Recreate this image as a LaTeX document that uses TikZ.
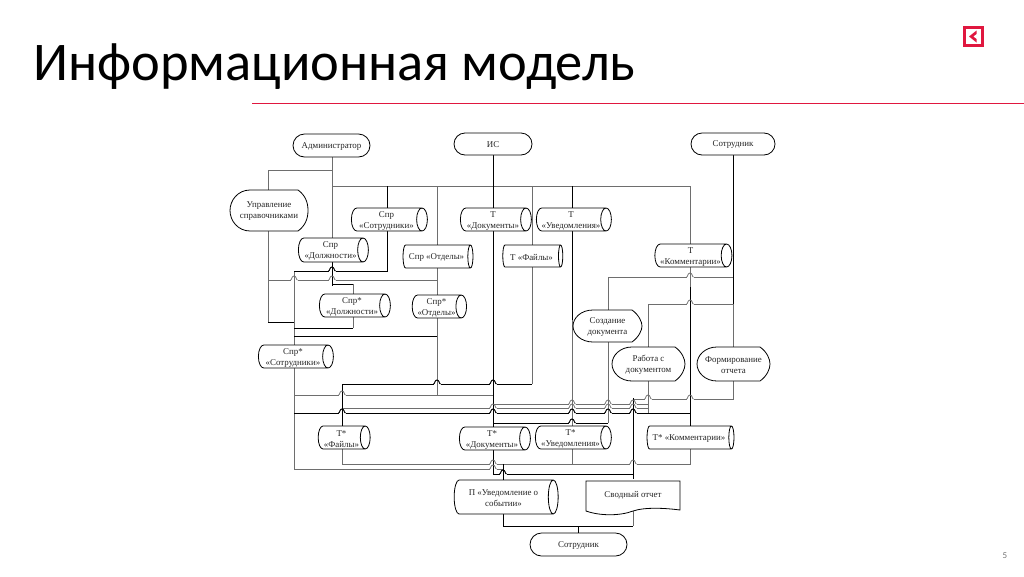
\documentclass[tikz,border=0pt]{standalone}
\usepackage{fontspec}
\setmainfont{Liberation Serif}
\newfontfamily\titlefont{Carlito}
\newfontfamily\numfont{Carlito}
\usetikzlibrary{shapes.geometric,shapes.misc,backgrounds}
\definecolor{brandred}{RGB}{224,23,63}
\definecolor{lngray}{HTML}{6E6E6E}
\tikzset{
  x=1pt,y=-1pt,
  lbl/.style={font=\fontsize{8.9}{11}\selectfont,align=center,text=black!85,inner sep=0pt,outer sep=0pt},
  cyl/.style 2 args={lbl,cylinder,draw=black,fill=white,line width=0.8pt,shape aspect=0.5,text height=19.6pt,minimum height=#1pt,minimum width=#2pt},
  term/.style 2 args={lbl,rounded rectangle,draw=black,fill=white,line width=0.8pt,text height=7.5pt,minimum width=#1pt,minimum height=#2pt},
  boxed/.style 2 args={lbl,rectangle,text height=18.2pt,minimum width=#1pt,minimum height=#2pt},
  oneline/.style={text height=8.5pt},
  ln/.style={draw=lngray,line width=0.75pt},
  bl/.style={draw=black,line width=0.95pt},
}
\newcommand\hop[4]{%
  \draw[white,line width=2.5pt] ({#1-3.5},#2) -- ({#1+3.5},#2);
  \draw[#4] (#1,{#2-6}) -- (#1,{#2+6});
  \draw[#3] ({#1-3.5},#2) .. controls ({#1-2},#2) and ({#1-2.5},{#2-4}) .. (#1,{#2-4})
     .. controls ({#1+2.5},{#2-4}) and ({#1+2},#2) .. ({#1+3.5},#2);
}
% display shape outline: x0 y0 x1 y1
\newcommand\dispoutline[4]{%
  \draw[draw=black,fill=white,line width=0.8pt]
   ({#3-10},#2) -- ({#1+20},#2)
   .. controls ({#1+8},#2) and (#1,{#2+(#4-#2)*0.25}) .. (#1,{(#2+#4)/2})
   .. controls (#1,{#2+(#4-#2)*0.75}) and ({#1+8},#4) .. ({#1+20},#4)
   -- ({#3-10},#4)
   .. controls ({#3-3},{#4-5}) and (#3,{#4-12}) .. (#3,{(#2+#4)/2})
   .. controls (#3,{#2+12}) and ({#3-3},{#2+5}) .. ({#3-10},#2);
}
\begin{document}
\begin{tikzpicture}
\useasboundingbox (0,0) rectangle (1024,576);

% header
\node[anchor=base west,inner sep=0pt,font=\titlefont\fontsize{54.5}{60}\selectfont,text=black] (title) at (33,80) {Информационная модель};
\fill[brandred] (252,102.7) rectangle (1024,104.3);
\draw[brandred,line width=3pt] (964.5,27.5) rectangle (982.5,45.5);
\fill[brandred] (976.5,30.5) -- (969,36.5) -- (976.5,42.5) -- (976.5,39) -- (973.2,36.5) -- (976.5,34) -- cycle;
\node[font=\numfont\fontsize{9}{10}\selectfont,text=black!55,inner sep=0pt] (pg) at (1005,556) {5};

% display shapes
\dispoutline{230}{190}{308}{231}
\dispoutline{573}{310}{642}{342}
\dispoutline{612}{347}{685}{381}
\dispoutline{697}{347}{770}{381}
\draw[draw=black,fill=white,line width=0.8pt] (586,481) -- (680,481) -- (680,510)
   .. controls (665,508) and (645,507) .. (633,511)
   .. controls (620,516) and (600,516) .. (586,511) -- cycle;

% nodes
\node[term={77}{23}] (adm) at (331.5,145.5) {Администратор};
\node[term={78}{22}] (is) at (493,144) {ИС};
\node[term={84}{22}] (emp) at (733,144) {Сотрудник};
\node[term={97}{23}] (emp2) at (578.5,544.5) {Сотрудник};
\node[boxed={78}{41}] (upr) at (269,210.5) {Управление\\справочниками};
\node[boxed={69}{32}] (sozd) at (607.5,326) {Создание\\документа};
\node[boxed={73}{34}] (rab) at (648.5,364) {Работа с\\документом};
\node[boxed={73}{34}] (form) at (733.5,364) {Формирование\\отчета};
\node[boxed={94}{30},oneline] (svod) at (633,494) {Сводный отчет};

\node[cyl={76}{23}] (sot) at (386.5,219.5) {Спр\\«Сотрудники»};
\node[cyl={71}{23}] (doc) at (493,219.5) {Т\\«Документы»};
\node[cyl={75}{23}] (uv) at (571,219.5) {Т\\«Уведомления»};
\node[cyl={70}{24}] (dolzh) at (330.5,250) {Спр\\«Должности»};
\node[cyl={70}{23},oneline] (otd) at (436.5,256.5) {Спр «Отделы»};
\node[cyl={60}{22},oneline] (fil) at (531.5,256) {Т «Файлы»};
\node[cyl={76}{23}] (komm) at (690.5,255.5) {Т\\«Комментарии»};
\node[cyl={71}{23}] (dolzhs) at (352,305.5) {Спр*\\«Должности»};
\node[cyl={52}{23}] (otds) at (436.5,306.5) {Спр*\\«Отделы»};
\node[cyl={75}{23}] (sots) at (293,356.5) {Спр*\\«Сотрудники»};
\node[cyl={52}{23}] (fils) at (341.5,437.5) {Т*\\«Файлы»};
\node[cyl={71}{23}] (docs) at (492,438.5) {Т*\\«Документы»};
\node[cyl={76}{23}] (uvs) at (570.5,437.5) {Т*\\«Уведомления»};
\node[cyl={87}{23},oneline] (koms) at (689,437.5) {Т* «Комментарии»};
\node[cyl={104}{34}] (uvp) at (503.5,497) {П «Уведомление о\\событии»};

% grid of named columns and rows for the connectors
\foreach \v in {268,294,332,342,353,387,437,493,503,532,572,578,608,633,648,690,733}{\coordinate (c\v) at (\v,0);}
\foreach \v in {170,186,271,277,280,284,287,304,320,322,328,336,384,395,399,404,408,413,423,464,469,474,526}{\coordinate (r\v) at (0,\v);}

\begin{pgfonlayer}{background}
\draw[ln] (adm.south -| c332) -- (dolzh.north -| c332);
\draw[ln] (c332|-r170) -- (c268|-r170) -- (upr.north -| c268);
\draw[ln] (c332|-r186) -- (c690|-r186) -- (komm.north -| c690);
\draw[ln] (c437|-r186) -- (otd.north -| c437);
\draw[ln] (c532|-r186) -- (fil.north -| c532);
\draw[bl] (c387|-r186) -- (sot.north -| c387);
\draw[bl] (c572|-r186) -- (uv.north -| c572);
\draw[bl] (is.south -| c493) -- (doc.north -| c493);
\draw[ln] (upr.south -| c268) -- (c268|-r322);
\draw[bl] (c268|-r322) -- (c294|-r322);
\draw[ln] (c294|-r271) -- (c294|-r469) -- (c503|-r469);
\draw[bl] (sot.south -| c387) -- (c387|-r271) -- (c294|-r271);
\draw[ln] (c268|-r280) -- (c437|-r280);
\draw[ln] (otd.south -| c437) -- (c437|-r395);
\draw[ln] (c294|-r395) -- (c493|-r395);
\draw[bl] (dolzh.south -| c332) -- (c332|-r284) -- (c353|-r284);
\draw[ln] (c353|-r284) -- (c353|-r328);
\draw[bl] (c353|-r328) -- (c294|-r328);
\draw[bl] (c437|-r336) -- (c294|-r336);
\draw[bl] (doc.south -| c493) -- (docs.north -| c493);
\draw[bl] (uv.south -| c572) -- (c572|-r320);
\draw[ln] (c572|-r320) -- (uvs.north -| c572);
\draw[ln] (fil.south -| c532) -- (c532|-r384);
\draw[bl] (c532|-r384) -- (c342|-r384) -- (fils.north -| c342);
\draw[ln] (komm.south -| c690) -- (c690|-r287);
\draw[bl] (c690|-r287) -- (koms.north -| c690);
\draw[bl] (emp.south -| c733) -- (c733|-r304);
\draw[ln] (c733|-r304) -- (form.north -| c733);
\draw[ln] (c733|-r277) -- (c608|-r277) -- (sozd.north -| c608);
\draw[ln] (c733|-r304) -- (c648|-r304) -- (rab.north -| c648);
\draw[ln] (sozd.south -| c608) -- (c608|-r423);
\draw[bl] (c608|-r423) -- (c493|-r423);
\draw[ln] (rab.south -| c648) -- (c648|-r413);
\draw[ln] (c342|-r408) -- (c648|-r408);
\draw[ln] (c493|-r404) -- (c648|-r404);
\draw[bl] (c294|-r413) -- (c690|-r413);
\draw[ln] (form.south -| c733) -- (c733|-r399) -- (c633|-r399);
\draw[bl] (c633|-r399) -- (svod.north -| c633);
\draw[ln] (fils.south -| c342) -- (c342|-r464) -- (c690|-r464) -- (koms.south -| c690);
\draw[ln] (uvs.south -| c572) -- (c572|-r464);
\draw[bl] (docs.south -| c493) -- (c493|-r474) -- (c633|-r474);
\draw[bl] (c503|-r464) -- (uvp.north -| c503);
\draw[bl] (uvp.south -| c503) -- (c503|-r526) -- (c633|-r526);
\draw[ln] (svod.south -| c633) -- (c633|-r526);
\draw[bl] (c578|-r526) -- (emp2.north -| c578);
% line jumps
\hop{294}{280}{ln}{ln}
\hop{332}{271}{bl}{bl}
\hop{332}{280}{ln}{bl}
\hop{437}{384}{bl}{ln}
\hop{493}{384}{bl}{bl}
\hop{342}{395}{ln}{bl}
\hop{342}{413}{bl}{bl}
\hop{493}{408}{ln}{bl}
\hop{493}{413}{bl}{bl}
\hop{572}{404}{ln}{ln}
\hop{572}{408}{ln}{ln}
\hop{572}{413}{bl}{ln}
\hop{572}{423}{bl}{ln}
\hop{608}{404}{ln}{ln}
\hop{608}{408}{ln}{ln}
\hop{608}{413}{bl}{ln}
\hop{633}{404}{ln}{bl}
\hop{633}{408}{ln}{bl}
\hop{633}{413}{bl}{bl}
\hop{690}{277}{ln}{ln}
\hop{690}{304}{ln}{bl}
\hop{648}{399}{ln}{ln}
\hop{690}{399}{ln}{bl}
\hop{493}{464}{ln}{bl}
\hop{493}{469}{ln}{bl}
\hop{503}{474}{bl}{bl}
\hop{633}{464}{ln}{bl}
\end{pgfonlayer}
\end{tikzpicture}
\end{document}
